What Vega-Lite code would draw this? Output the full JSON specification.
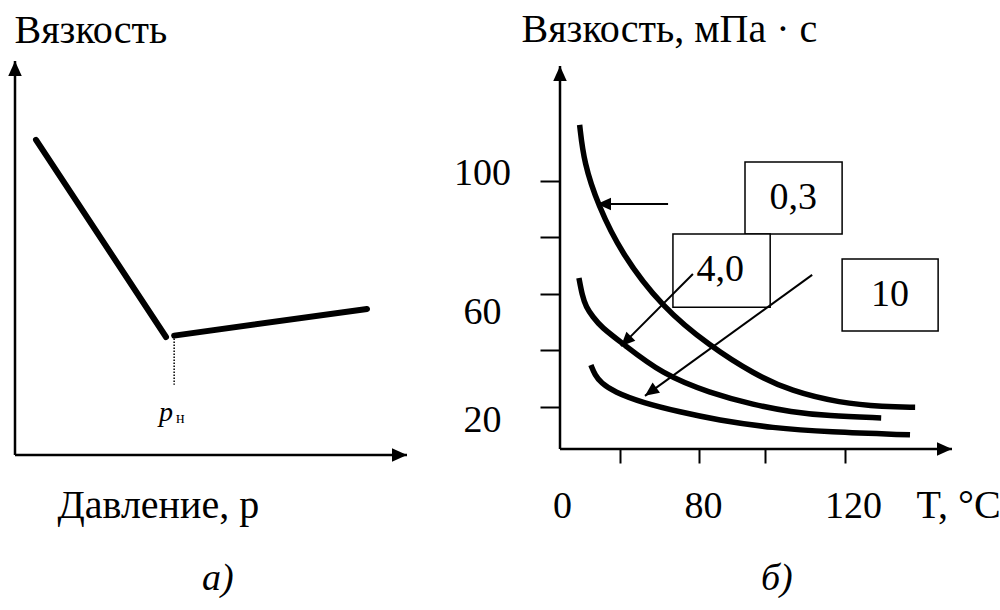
{
  "$schema": "https://vega.github.io/schema/vega-lite/v6.json",
  "background": "white",
  "padding": {"left": 8, "top": 9, "right": 0, "bottom": 0},
  "config": {
    "view": {"stroke": null},
    "font": "Liberation Serif",
    "axis": {"grid": false, "domain": false, "labelFont": "Liberation Serif", "titleFont": "Liberation Serif", "labelColor": "black", "titleColor": "black", "labelFontSize": 38, "titleFontSize": 40, "titleFontWeight": "normal", "tickColor": "black", "labelFlush": false, "labelOverlap": false, "labelBound": false},
    "title": {"font": "Liberation Serif", "fontSize": 38, "fontWeight": "normal", "color": "black"},
    "text": {"font": "Liberation Serif", "color": "black"}
  },
  "datasets": {
    "axesA": [
      {"x": 0, "y": 0, "x2": 0, "y2": 10, "dir": "up"},
      {"x": 0, "y": 0, "x2": 10, "y2": 0, "dir": "right"}
    ],
    "lineA": [
      {"p": 0.536, "v": 8.0, "seg": "fall"},
      {"p": 3.852, "v": 2.995, "seg": "fall"},
      {"p": 4.06, "v": 3.03, "seg": "rise"},
      {"p": 8.98, "v": 3.706, "seg": "rise"}
    ],
    "dropA": [{"p": 4.06, "v": 3.03, "v2": 1.78}],
    "labelA": [{"p": 3.673, "v": 0.863, "t": "p"}],
    "subA": [{"p": 4.107, "v": 0.812, "t": "н"}],
    "axesB": [
      {"x": 0, "y": 5, "x2": 0, "y2": 140.5, "dir": "up"},
      {"x": 0, "y": 5, "x2": 149.3, "y2": 5, "dir": "right"}
    ],
    "curves": [
      {"T": 11.3, "mu": 119.7, "p": "0,3"},
      {"T": 13.8, "mu": 106.2, "p": "0,3"},
      {"T": 21.9, "mu": 91.3, "p": "0,3"},
      {"T": 35.1, "mu": 74.4, "p": "0,3"},
      {"T": 58.7, "mu": 55.2, "p": "0,3"},
      {"T": 83.0, "mu": 41.4, "p": "0,3"},
      {"T": 95.1, "mu": 31.5, "p": "0,3"},
      {"T": 105.2, "mu": 25.5, "p": "0,3"},
      {"T": 118.6, "mu": 21.3, "p": "0,3"},
      {"T": 130.7, "mu": 19.9, "p": "0,3"},
      {"T": 139.2, "mu": 19.8, "p": "0,3"},
      {"T": 10.9, "mu": 65.5, "p": "4,0"},
      {"T": 12.7, "mu": 59.5, "p": "4,0"},
      {"T": 15.0, "mu": 55.2, "p": "4,0"},
      {"T": 19.0, "mu": 51.7, "p": "4,0"},
      {"T": 23.6, "mu": 48.2, "p": "4,0"},
      {"T": 36.3, "mu": 42.2, "p": "4,0"},
      {"T": 58.7, "mu": 31.5, "p": "4,0"},
      {"T": 83.0, "mu": 24.8, "p": "4,0"},
      {"T": 95.1, "mu": 20.6, "p": "4,0"},
      {"T": 105.2, "mu": 18.1, "p": "4,0"},
      {"T": 115.3, "mu": 16.7, "p": "4,0"},
      {"T": 129.9, "mu": 16.0, "p": "4,0"},
      {"T": 17.8, "mu": 34.7, "p": "10"},
      {"T": 20.1, "mu": 31.2, "p": "10"},
      {"T": 23.6, "mu": 28.4, "p": "10"},
      {"T": 31.1, "mu": 25.2, "p": "10"},
      {"T": 47.8, "mu": 21.3, "p": "10"},
      {"T": 69.1, "mu": 18.1, "p": "10"},
      {"T": 84.9, "mu": 15.3, "p": "10"},
      {"T": 100.3, "mu": 12.4, "p": "10"},
      {"T": 115.3, "mu": 11.0, "p": "10"},
      {"T": 137.8, "mu": 10.0, "p": "10"}
    ],
    "boxes": [
      {"p": "0,3", "x": 92.6, "x2": 119.2, "y": 106.6, "y2": 81.1, "cx": 105.8, "cy": 93.8},
      {"p": "4,0", "x": 65.0, "x2": 99.5, "y": 81.1, "y2": 55.2, "cx": 85.8, "cy": 68.3},
      {"p": "10", "x": 119.2, "x2": 145.5, "y": 72.2, "y2": 46.8, "cx": 132.3, "cy": 59.5}
    ],
    "pointers": [
      {"p": "0,3", "x": 62.2, "y": 91.7, "x2": 21.3, "y2": 91.7, "dir": "left"},
      {"p": "4,0", "x": 76.5, "y": 66.9, "x2": 35.1, "y2": 41.4, "dir": "downleft45"},
      {"p": "10", "x": 111.0, "y": 66.6, "x2": 48.9, "y2": 23.8, "dir": "downleft36"}
    ]
  },
  "hconcat": [
    {
      "width": 392,
      "height": 394,
      "title": {"text": "а)", "orient": "bottom", "anchor": "start", "frame": "group", "align": "left", "baseline": "alphabetic", "dx": 187, "offset": 65, "fontStyle": "italic"},
      "layer": [
        {
          "data": {"name": "axesA"},
          "mark": {"type": "rule", "strokeWidth": 2.5, "color": "black"},
          "encoding": {
            "x": {"field": "x", "type": "quantitative", "scale": {"domain": [0, 10], "nice": false, "zero": false},
                  "axis": {"title": "Давление, p", "ticks": false, "labels": false, "titleAlign": "left", "titleBaseline": "alphabetic", "titleX": 42, "titleY": 62}},
            "y": {"field": "y", "type": "quantitative", "scale": {"domain": [0, 10], "nice": false, "zero": false},
                  "axis": {"title": "Вязкость", "ticks": false, "labels": false, "titleAngle": 0, "titleAlign": "left", "titleBaseline": "alphabetic", "titleX": -1, "titleY": -19}},
            "x2": {"field": "x2"},
            "y2": {"field": "y2"}
          }
        },
        {
          "data": {"name": "axesA"},
          "mark": {"type": "point", "shape": "M0,0L2,-0.9L2,0.9Z", "filled": true, "size": 225, "color": "black", "opacity": 1, "strokeWidth": 0},
          "encoding": {
            "x": {"field": "x2", "type": "quantitative"},
            "y": {"field": "y2", "type": "quantitative"},
            "angle": {"field": "dir", "type": "nominal", "scale": {"type": "ordinal", "domain": ["up", "right", "left", "downleft45", "downleft36"], "range": [90, 180, 0, 315, 324]}, "legend": null}
          }
        },
        {
          "data": {"name": "lineA"},
          "mark": {"type": "line", "strokeWidth": 6, "color": "black", "strokeCap": "round"},
          "encoding": {
            "x": {"field": "p", "type": "quantitative"},
            "y": {"field": "v", "type": "quantitative"},
            "detail": {"field": "seg"}
          }
        },
        {
          "data": {"name": "dropA"},
          "mark": {"type": "rule", "strokeWidth": 1.5, "color": "black", "strokeDash": [1.5, 1.5]},
          "encoding": {
            "x": {"field": "p", "type": "quantitative"},
            "y": {"field": "v", "type": "quantitative"},
            "y2": {"field": "v2"}
          }
        },
        {
          "data": {"name": "labelA"},
          "mark": {"type": "text", "fontSize": 28, "fontStyle": "italic", "align": "left", "baseline": "alphabetic"},
          "encoding": {
            "x": {"field": "p", "type": "quantitative"},
            "y": {"field": "v", "type": "quantitative"},
            "text": {"field": "t"}
          }
        },
        {
          "data": {"name": "subA"},
          "mark": {"type": "text", "fontSize": 16, "align": "left", "baseline": "alphabetic"},
          "encoding": {
            "x": {"field": "p", "type": "quantitative"},
            "y": {"field": "v", "type": "quantitative"},
            "text": {"field": "t"}
          }
        }
      ]
    },
    {
      "width": 392,
      "height": 388,
      "title": {"text": "б)", "orient": "bottom", "anchor": "start", "frame": "group", "align": "left", "baseline": "alphabetic", "dx": 201, "offset": 65, "fontStyle": "italic"},
      "layer": [
        {
          "data": {"name": "axesB"},
          "mark": {"type": "rule", "strokeWidth": 2.5, "color": "black"},
          "encoding": {
            "x": {"field": "x", "type": "quantitative", "scale": {"domain": [0, 80, 149.3], "range": [0, 139, 392], "nice": false, "zero": false},
                  "axis": {"title": "T, °C", "values": [0, 34.5, 80, 98.1, 120], "tickSize": 14, "tickWidth": 2,
                           "tickOpacity": {"condition": {"test": "datum.value == 0", "value": 0}, "value": 1},
                           "labelExpr": "datum.value == 0 || datum.value == 80 || datum.value == 120 ? datum.label : ''",
                           "labelAlign": "center", "labelBaseline": "alphabetic", "labelPadding": 54,
                           "labelOffset": {"condition": [{"test": "datum.value == 0", "value": 2}, {"test": "datum.value == 80", "value": 4}], "value": 8},
                           "titleAlign": "left", "titleBaseline": "alphabetic", "titleX": 356, "titleY": 68}},
            "y": {"field": "y", "type": "quantitative", "scale": {"domain": [5, 142.3], "nice": false, "zero": false},
                  "axis": {"title": "Вязкость, мПа · с", "values": [20, 40, 60, 80, 100], "tickSize": 20, "tickWidth": 2,
                           "labelExpr": "datum.value == 20 || datum.value == 60 || datum.value == 100 ? datum.label : ''",
                           "labelAlign": "center", "labelBaseline": "middle", "labelPadding": 58,
                           "labelOffset": {"condition": [{"test": "datum.value == 100", "value": -7}, {"test": "datum.value == 60", "value": 19}], "value": 14},
                           "titleAngle": 0, "titleAlign": "left", "titleBaseline": "alphabetic", "titleX": -39, "titleY": -20}},
            "x2": {"field": "x2"},
            "y2": {"field": "y2"}
          }
        },
        {
          "data": {"name": "axesB"},
          "mark": {"type": "point", "shape": "M0,0L2,-0.9L2,0.9Z", "filled": true, "size": 225, "color": "black", "opacity": 1, "strokeWidth": 0},
          "encoding": {
            "x": {"field": "x2", "type": "quantitative"},
            "y": {"field": "y2", "type": "quantitative"},
            "angle": {"field": "dir", "type": "nominal", "scale": {"type": "ordinal", "domain": ["up", "right", "left", "downleft45", "downleft36"], "range": [90, 180, 0, 315, 324]}, "legend": null}
          }
        },
        {
          "data": {"name": "curves"},
          "mark": {"type": "line", "strokeWidth": 5.5, "color": "black", "interpolate": "basis"},
          "encoding": {
            "x": {"field": "T", "type": "quantitative"},
            "y": {"field": "mu", "type": "quantitative"},
            "detail": {"field": "p"}
          }
        },
        {
          "data": {"name": "boxes"},
          "mark": {"type": "rect", "fill": "white", "stroke": "black", "strokeWidth": 1.5},
          "encoding": {
            "x": {"field": "x", "type": "quantitative"},
            "x2": {"field": "x2"},
            "y": {"field": "y", "type": "quantitative"},
            "y2": {"field": "y2"}
          }
        },
        {
          "data": {"name": "boxes"},
          "mark": {"type": "text", "fontSize": 38, "align": "center", "baseline": "middle"},
          "encoding": {
            "x": {"field": "cx", "type": "quantitative"},
            "y": {"field": "cy", "type": "quantitative"},
            "text": {"field": "p"}
          }
        },
        {
          "data": {"name": "pointers"},
          "mark": {"type": "rule", "strokeWidth": 2, "color": "black"},
          "encoding": {
            "x": {"field": "x", "type": "quantitative"},
            "y": {"field": "y", "type": "quantitative"},
            "x2": {"field": "x2"},
            "y2": {"field": "y2"}
          }
        },
        {
          "data": {"name": "pointers"},
          "mark": {"type": "point", "shape": "M0,0L2,-0.9L2,0.9Z", "filled": true, "size": 196, "color": "black", "opacity": 1, "strokeWidth": 0},
          "encoding": {
            "x": {"field": "x2", "type": "quantitative"},
            "y": {"field": "y2", "type": "quantitative"},
            "angle": {"field": "dir", "type": "nominal", "scale": {"type": "ordinal", "domain": ["up", "right", "left", "downleft45", "downleft36"], "range": [90, 180, 0, 315, 324]}, "legend": null}
          }
        }
      ]
    }
  ],
  "spacing": 153,
  "bounds": "flush"
}
